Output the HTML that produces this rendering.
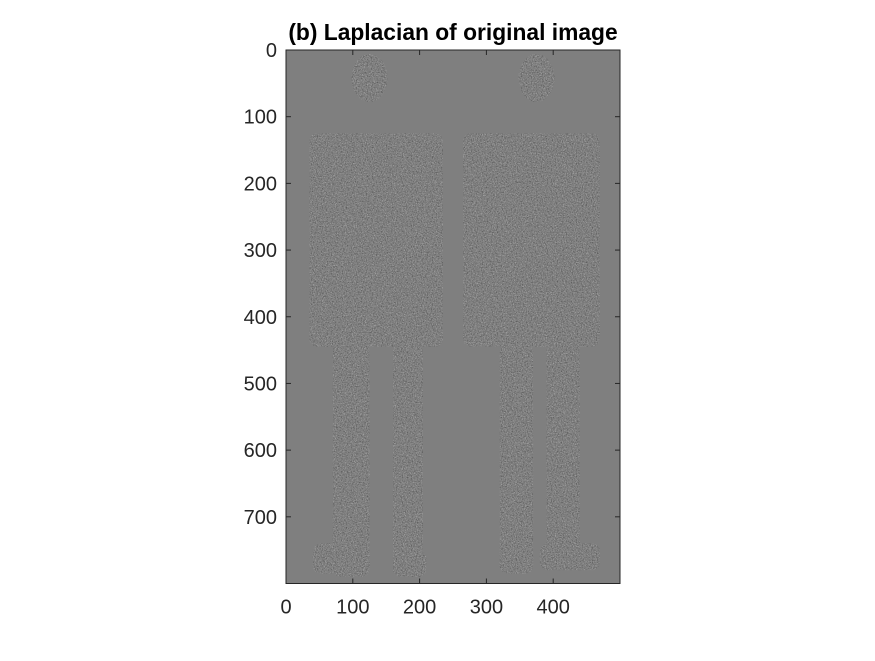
<!DOCTYPE html>
<html><head><meta charset="utf-8"><style>
body{margin:0;background:#fff;}
svg text{font-family:"Liberation Sans",sans-serif;fill:#262626;}
</style></head><body>
<svg id="chart" width="875" height="656" viewBox="0 0 875 656" xmlns="http://www.w3.org/2000/svg">
<defs>
<filter id="noise" filterUnits="userSpaceOnUse" x="286" y="50" width="334" height="534">
<feTurbulence type="fractalNoise" baseFrequency="0.9" numOctaves="2" seed="3" result="t"/>
<feColorMatrix in="t" type="matrix" values="0 0 0 0 0  0 0 0 0 0  0 0 0 0 0  0 0 0 2.2 -1.07" result="a"/>
<feComposite in="SourceGraphic" in2="a" operator="in"/>
</filter>
<filter id="noise2" filterUnits="userSpaceOnUse" x="286" y="50" width="334" height="534">
<feTurbulence type="fractalNoise" baseFrequency="0.8" numOctaves="2" seed="9" result="t"/>
<feColorMatrix in="t" type="matrix" values="0 0 0 0 0  0 0 0 0 0  0 0 0 0 0  0 0 0 2.2 -1.07" result="a"/>
<feComposite in="SourceGraphic" in2="a" operator="in"/>
</filter>
<clipPath id="body-clip"></clipPath>
</defs>
<text x="453" y="40" text-anchor="middle" font-size="22.8" font-weight="bold" style="fill:#000">(b) Laplacian of original image</text>
<g id="plot"></g>
</svg>
<script>
const xTicks=[0,100,200,300,400];
const yTicks=[0,100,200,300,400,500,600,700];
const imgW=500, imgH=800;
const heads=[[125,42,27,36],[375,42,27,36]];
const torsos=[[35,125,200,320],[265,125,205,320]];
const legs=[[70,440,55,350],[160,440,45,350],[320,440,50,345],[390,440,50,340]];
const feet=[[40,740,70,45],[160,750,50,40],[320,740,50,45],[380,740,90,40]];
const L=286,T=50,R=620,B=583.5;
const sx=v=>L+v*(R-L)/imgW, sy=v=>T+v*(B-T)/imgH;
const NS="http://www.w3.org/2000/svg";
const plot=document.getElementById('plot');
const clipg=document.getElementById('body-clip');
function mk(tag,attrs,parent){const e=document.createElementNS(NS,tag);for(const k in attrs)e.setAttribute(k,attrs[k]);parent.appendChild(e);return e;}
const bg=mk('rect',{x:L,y:T,width:R-L,height:B-T,fill:'#7f7f7f'},plot);


heads.forEach(h=>mk('ellipse',{cx:sx(h[0]),cy:sy(h[1]),rx:h[2]*(R-L)/imgW,ry:h[3]*(B-T)/imgH},clipg));
[torsos,legs,feet].forEach(arr=>arr.forEach(r=>mk('rect',{x:sx(r[0]),y:sy(r[1]),width:r[2]*(R-L)/imgW,height:r[3]*(B-T)/imgH,rx:8},clipg)));
const g=mk('g',{'clip-path':'url(#body-clip)'},plot);


mk('rect',{x:L,y:T,width:R-L,height:B-T,fill:'#b8b8b8',filter:'url(#noise)'},g);
mk('rect',{x:L,y:T,width:R-L,height:B-T,fill:'#4a4a4a',filter:'url(#noise2)'},g);
const box=mk('rect',{x:L,y:T,width:R-L,height:B-T,fill:'none',stroke:'#262626','stroke-width':1},plot);


xTicks.forEach(v=>{
  const x=sx(v);
  mk('line',{x1:x,x2:x,y1:B,y2:B-5,stroke:'#262626'},plot);
  mk('line',{x1:x,x2:x,y1:T,y2:T+5,stroke:'#262626'},plot);
  const t=mk('text',{x:x,y:B+30,'text-anchor':'middle','font-size':20},plot);
  t.textContent=v;
  
  
});
yTicks.forEach(v=>{
  const y=sy(v);
  mk('line',{x1:L,x2:L+5,y1:y,y2:y,stroke:'#262626'},plot);
  mk('line',{x1:R,x2:R-5,y1:y,y2:y,stroke:'#262626'},plot);
  const t=mk('text',{x:L-9,y:y+7,'text-anchor':'end','font-size':20},plot);
  t.textContent=v;
  
  
});
</script>
</body></html>
